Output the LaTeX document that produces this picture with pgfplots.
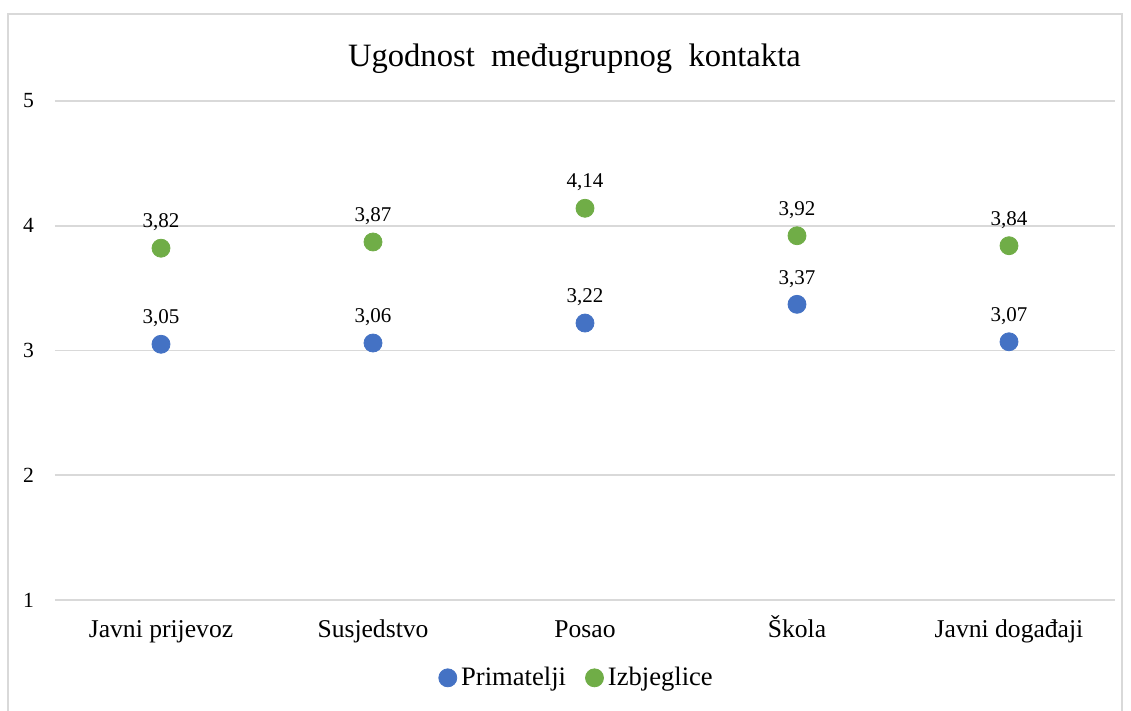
\documentclass[border=0pt]{standalone}
\usepackage{fontspec}
\setmainfont{Liberation Serif}
\usepackage{pgfplots}
\pgfplotsset{compat=1.18}
\definecolor{cblue}{HTML}{4472C4}
\definecolor{cgreen}{HTML}{70AD47}
\definecolor{gridc}{HTML}{D9D9D9}
\begin{document}
\begin{tikzpicture}
\begin{axis}[
  name=ax,
  scale only axis, width=530pt, height=249.5pt,
  xmin=-0.5, xmax=4.5, ymin=1, ymax=5,
  xtick={0,1,2,3,4},
  xticklabels={Javni prijevoz, Susjedstvo, Posao, Škola, Javni događaji},
  ytick={1,2,3,4,5},
  ymajorgrids, grid style={gridc, line width=0.9pt},
  axis line style={draw=none},
  major tick length=0pt,
  /pgf/number format/assume math mode=true,
  yticklabel style={font=\fontsize{10.8}{12}\selectfont, xshift=-7pt},
  xticklabel style={font=\fontsize{12.8}{14}\selectfont, anchor=base, yshift=-19pt},
  title={Ugodnost\ \ međugrupnog\ \ kontakta},
  title style={font=\fontsize{16.3}{18}\selectfont, at={(0.49,1)}, yshift=4pt},
  nodes near coords,
  every node near coord/.append style={font=\fontsize{10.5}{12}\selectfont, text=black, yshift=5pt},
  nodes near coords style={/pgf/number format/.cd, fixed, fixed zerofill, precision=2, use comma, assume math mode=true},
  legend style={at={(0.493,-0.156)}, anchor=center, draw=none, legend columns=2,
    font=\fontsize{13.3}{15}\selectfont, column sep=0pt,
    /tikz/every even column/.append style={column sep=7.5pt}},
  legend cell align=left,
  legend image code/.code={\fill[#1] (0pt,0pt) circle (4.5pt);},
]
\addplot[only marks, mark=*, mark size=4.5pt, color=cblue, mark options={draw=cblue, fill=cblue}]
  coordinates {(0,3.05) (1,3.06) (2,3.22) (3,3.37) (4,3.07)};
\addlegendentry{Primatelji}
\addplot[only marks, mark=*, mark size=4.5pt, color=cgreen, mark options={draw=cgreen, fill=cgreen}]
  coordinates {(0,3.82) (1,3.87) (2,4.14) (3,3.92) (4,3.84)};
\addlegendentry{Izbjeglice}
\end{axis}
\path[use as bounding box] ([xshift=-27.5pt, yshift=-55.5pt]ax.south west) rectangle ([xshift=8pt, yshift=50.5pt]ax.north east);
\draw[gridc, line width=1.2pt] ([xshift=-23.5pt, yshift=-56pt]ax.south west) -- ([xshift=-23.5pt, yshift=43.5pt]ax.south west |- ax.north west) -- ([xshift=3.5pt, yshift=43.5pt]ax.north east) -- ([xshift=3.5pt, yshift=-56pt]ax.south east);
\end{tikzpicture}
\end{document}
